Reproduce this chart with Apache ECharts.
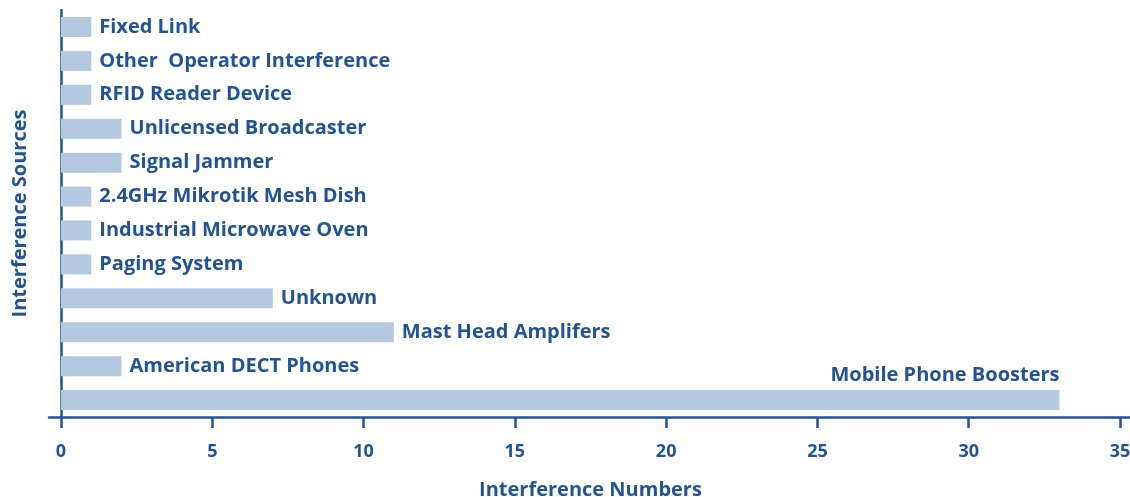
<!DOCTYPE html>
<html>
<head>
<meta charset="utf-8">
<style>
  html, body { margin: 0; padding: 0; background: #ffffff; }
  #chart { width: 1130px; height: 497px; }
</style>
<script src="https://cdn.jsdelivr.net/npm/echarts@6/dist/echarts.min.js"></script>
</head>
<body>
<div id="chart"></div>
<script>
// Interference sources, listed bottom to top on the category axis
const sources = [
  'Mobile Phone Boosters',
  'American DECT Phones',
  'Mast Head Amplifers',
  'Unknown',
  'Paging System',
  'Industrial Microwave Oven',
  '2.4GHz Mikrotik Mesh Dish',
  'Signal Jammer',
  'Unlicensed Broadcaster',
  'RFID Reader Device',
  'Other  Operator Interference',
  'Fixed Link'
];
// Number of interference cases per source
const counts = [33, 2, 11, 7, 1, 1, 1, 2, 2, 1, 1, 1];
// Value axis range and step
const xMin = 0;
const xMax = 35;
const xStep = 5;

const INK = '#225495';
const BAR = '#b4c9e0';
const FONT = '"Open Sans", "Noto Sans", sans-serif';

const chart = echarts.init(document.getElementById('chart'), null, { renderer: 'canvas' });

const barData = counts.map((v, i) => {
  const item = { value: v };
  if (i === 0) {
    // longest bar: label sits above the bar, flush with its end
    item.label = {
      position: ['100%', 0],
      align: 'right',
      verticalAlign: 'bottom',
      offset: [0, -5]
    };
  }
  return item;
});

chart.setOption({
  animation: false,
  textStyle: { fontFamily: FONT },
  grid: [
    { left: 61, right: 10, top: 10, bottom: 80, containLabel: false, outerBoundsMode: 'none' },
    // thin grid that only carries the extended baseline
    { left: 49, right: 0, top: 10, bottom: 80, containLabel: false, outerBoundsMode: 'none' }
  ],
  xAxis: [
    {
      type: 'value',
      gridIndex: 0,
      min: xMin,
      max: xMax,
      interval: xStep,
      name: 'Interference Numbers',
      nameLocation: 'middle',
      nameGap: 63,
      nameTextStyle: { color: INK, fontSize: 20, fontWeight: 'bold', fontFamily: FONT },
      axisLine: { show: false },
      axisTick: { show: true, length: 11, lineStyle: { color: INK, width: 2.5 } },
      axisLabel: { color: INK, fontSize: 18, fontWeight: 'bold', fontFamily: FONT, margin: 26 },
      splitLine: { show: false }
    },
    {
      type: 'value',
      gridIndex: 1,
      min: 0,
      max: 1,
      axisLine: { show: true, lineStyle: { color: INK, width: 2.5 } },
      axisTick: { show: false },
      axisLabel: { show: false },
      splitLine: { show: false }
    }
  ],
  yAxis: [
    {
      type: 'category',
      gridIndex: 0,
      data: sources,
      name: 'Interference Sources',
      nameLocation: 'middle',
      nameGap: 31,
      nameRotate: 90,
      nameTextStyle: { color: INK, fontSize: 20, fontWeight: 'bold', fontFamily: FONT },
      axisLine: { show: true, lineStyle: { color: INK, width: 2.5 } },
      axisTick: { show: false },
      axisLabel: { show: false },
      splitLine: { show: false }
    },
    {
      type: 'value',
      gridIndex: 1,
      show: false
    }
  ],
  series: [
    {
      type: 'bar',
      xAxisIndex: 0,
      yAxisIndex: 0,
      data: barData,
      barWidth: 20,
      itemStyle: { color: BAR },
      label: {
        show: true,
        position: 'right',
        distance: 8,
        formatter: p => sources[p.dataIndex],
        color: INK,
        fontSize: 20,
        fontWeight: 'bold',
        fontFamily: FONT
      }
    }
  ]
});
</script>
</body>
</html>
